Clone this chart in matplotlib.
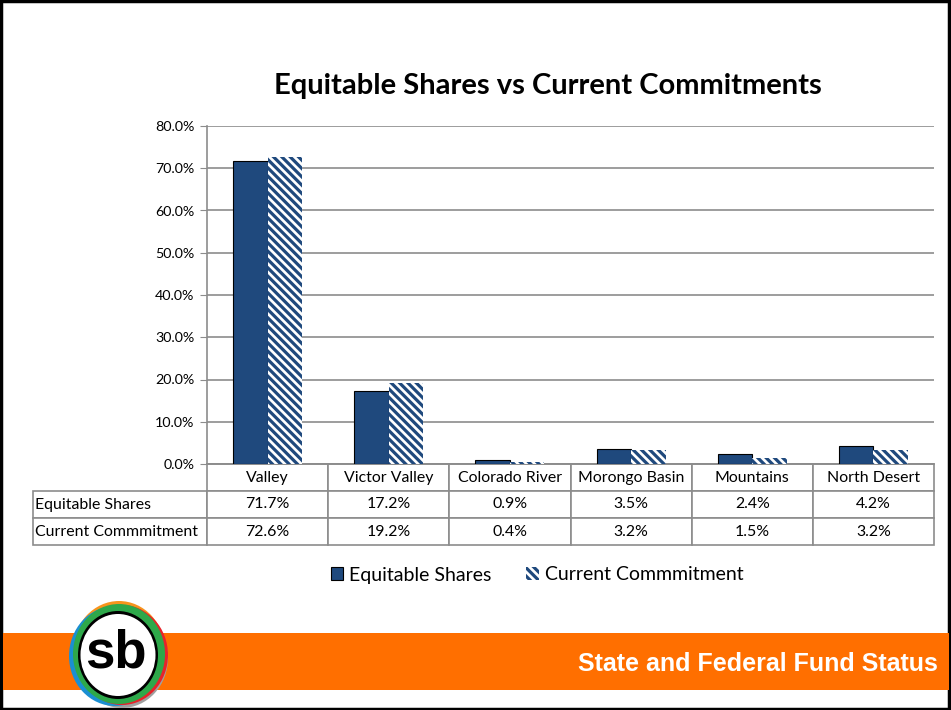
import matplotlib.pyplot as plt
from matplotlib.patches import Rectangle, Ellipse
import numpy as np

regions = ["Valley", "Victor Valley", "Colorado River", "Morongo Basin", "Mountains", "North Desert"]
equitable = [71.7, 17.2, 0.9, 3.5, 2.4, 4.2]
commitment = [72.6, 19.2, 0.4, 3.2, 1.5, 3.2]
series_names = ["Equitable Shares", "Current Commmitment"]
yticks = [0, 10, 20, 30, 40, 50, 60, 70, 80]

navy = "#1F497D"
grid_gray = "#8C8C8C"
W, H = 951, 710

plt.rcParams['font.family'] = ['Lato', 'DejaVu Sans']
plt.rcParams['hatch.linewidth'] = 2.3
plt.rcParams['hatch.color'] = navy

fig = plt.figure(figsize=(W / 100, H / 100), dpi=100)

# plot area in pixels
left, right, top, bottom = 207, 934, 126, 464
ax = fig.add_axes([left / W, 1 - bottom / H, (right - left) / W, (bottom - top) / H])

x = np.arange(len(regions))
bw = 0.285
ax.bar(x - bw / 2, equitable, bw, color=navy, edgecolor="black", linewidth=0.8,
       label=series_names[0], zorder=3)
ax.bar(x + bw / 2, commitment, bw, color="white", edgecolor=navy, linewidth=0,
       hatch="\\\\\\\\", label=series_names[1], zorder=3)

ax.set_xlim(-0.5, len(regions) - 0.5)
ax.set_ylim(0, 80)
ax.set_yticks(yticks)
ax.set_yticklabels([f"{v:.1f}%" for v in yticks], fontsize=10.3)
ax.set_xticks([])
ax.yaxis.grid(True, color=grid_gray, linewidth=1.2, zorder=0)
ax.tick_params(axis="y", direction="out", length=5, color=grid_gray, pad=4)
for s in ["top", "right"]:
    ax.spines[s].set_visible(False)
ax.spines["left"].set_color(grid_gray)
ax.spines["bottom"].set_color(grid_gray)
ax.spines["left"].set_linewidth(1.2)
ax.spines["bottom"].set_linewidth(1.2)

# data table under the plot (bbox covers the data columns, row labels hang left)
plot_w = right - left
plot_h = bottom - top
tbl_left = 33
row_h = 27
cell_text = [[f"{v:.1f}%" for v in equitable], [f"{v:.1f}%" for v in commitment]]
tbl = ax.table(cellText=cell_text, rowLabels=series_names, colLabels=regions,
               colWidths=[1 / 6] * 6, cellLoc="center", rowLoc="left",
               bbox=[0, -3 * row_h / plot_h, 1, 3 * row_h / plot_h])
tbl._autoColumns = []
tbl.auto_set_font_size(False)
tbl.set_fontsize(11.4)
for (r, c), cell in tbl.get_celld().items():
    cell.set_edgecolor(grid_gray)
    cell.set_linewidth(1.2)
    cell.PAD = 0.012
    if c == -1:
        cell.set_width((left - tbl_left) / plot_w)

# title
fig.text(548 / W, 1 - 86 / H, "Equitable Shares vs Current Commitments",
         ha="center", va="center", fontsize=21, fontweight="bold")

# legend
fig.legend(loc="center", bbox_to_anchor=(537 / W, 1 - 575 / H), ncol=2, frameon=False,
           fontsize=14, handlelength=0.65, handleheight=0.65, handletextpad=0.3,
           columnspacing=1.8)

# slide border and banner
fig.add_artist(Rectangle((1 / W, 1 / H), (W - 3) / W, (H - 2) / H, transform=fig.transFigure,
                         fill=False, edgecolor="black", linewidth=2.5))
fig.add_artist(Rectangle((3 / W, 1 - 690 / H), (W - 5) / W, 57 / H, transform=fig.transFigure,
                         facecolor="#FF6F00", edgecolor="none"))
fig.text(938 / W, 1 - 664 / H, "State and Federal Fund Status", ha="right", va="center",
         color="white", fontsize=18, fontweight="bold", family=["Liberation Sans", "DejaVu Sans"])

# logo
cx, cy = 119 / W, 1 - 655 / H
ring_colors = [("#F7941D", 0, 4), ("#A0A0A0", 3, -3), ("#1B8FD2", -4, -1), ("#E8232A", 3, 0),
               ("#2EA84A", 0, 1)]
for col, dx, dy in ring_colors:
    fig.add_artist(Ellipse((cx + dx / W, cy + dy / H), 92 / W, 100 / H,
                           transform=fig.transFigure, facecolor=col, edgecolor="none"))
fig.add_artist(Ellipse((cx - 1 / W, cy), 80 / W, 88 / H, transform=fig.transFigure,
                       facecolor="black", edgecolor="none"))
fig.add_artist(Ellipse((cx - 1 / W, cy), 75 / W, 82 / H, transform=fig.transFigure,
                       facecolor="white", edgecolor="none"))
fig.text(cx - 3 / W, cy + 1 / H, "sb", ha="center", va="center", fontsize=38, fontweight="heavy",
         family=["Liberation Sans", "DejaVu Sans"])

fig.savefig("out.png", dpi=100)
